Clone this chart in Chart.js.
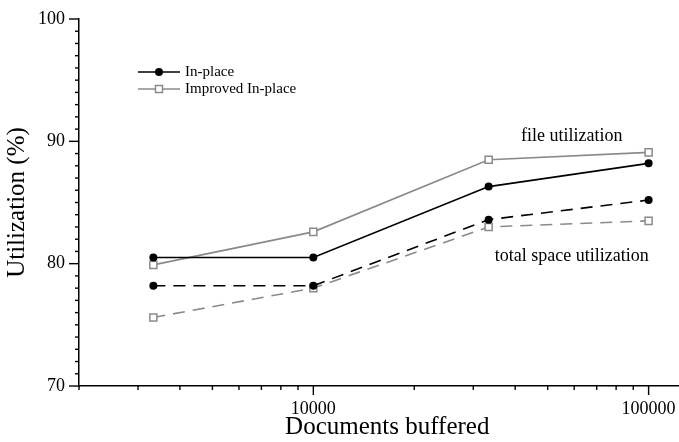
<!DOCTYPE html>
<html lang="en">
<head>
  <meta charset="UTF-8">
  <title>Utilization</title>
  <script src="https://cdn.jsdelivr.net/npm/chart.js"></script>
  <style>
    html, body { margin: 0; padding: 0; background: #fff; overflow: hidden; width: 679px; height: 442px; }
    canvas { position: absolute; left: 0; top: 0; }
  </style>
</head>
<body>
  <canvas id="grafico" width="702" height="442"></canvas>

<script>
  // documents buffered (x) and utilization (%)
  const buffered = [3333, 10000, 33333, 100000];
  const inPlaceFile = [80.5, 80.5, 86.3, 88.2];
  const improvedFile = [79.9, 82.6, 88.5, 89.1];
  const inPlaceTotal = [78.2, 78.2, 83.6, 85.2];
  const improvedTotal = [75.6, 78.0, 83.0, 83.5];

  const xTickLabels = [10000, 100000];
  const yTickLabels = [70, 80, 90, 100];
  const legendNames = ['In-place', 'Improved In-place'];

  const serif = 'Liberation Serif';
  const gray = '#8a8a8a';

  const pts = ys => ys.map((y, i) => ({ x: buffered[i], y: y }));

  const blackStyle = {
    borderColor: '#000', borderWidth: 1.6,
    pointStyle: 'circle', pointRadius: 4, pointBorderWidth: 0,
    pointBackgroundColor: '#000', pointBorderColor: '#000'
  };
  const grayStyle = {
    borderColor: gray, borderWidth: 1.6,
    pointStyle: 'rect', pointRadius: 5, pointBorderWidth: 1.5,
    pointBackgroundColor: '#fff', pointBorderColor: gray
  };

  const data = {
    datasets: [
      Object.assign({ label: legendNames[0], data: pts(inPlaceFile), order: 1 }, blackStyle),
      Object.assign({ label: legendNames[1], data: pts(improvedFile), order: 2 }, grayStyle),
      Object.assign({ label: legendNames[0] + ' total', data: pts(inPlaceTotal), borderDash: [12, 8], order: 3 }, blackStyle),
      Object.assign({ label: legendNames[1] + ' total', data: pts(improvedTotal), borderDash: [12, 8], order: 4 }, grayStyle)
    ]
  };

  // no extra room for end labels, the plot box is fixed by layout padding
  const noPad = s => { s.paddingLeft = 0; s.paddingRight = 0; s.paddingTop = 0; s.paddingBottom = 0; };

  // outward tick marks, long on labelled values and short in between
  const tickMarks = {
    id: 'tickMarks',
    afterDraw(chart) {
      const ctx = chart.ctx;
      const xs = chart.scales.x, ys = chart.scales.y;
      ctx.save();
      ctx.strokeStyle = '#000';
      ctx.lineWidth = 1.4;
      ys.ticks.forEach(t => {
        const py = ys.getPixelForValue(t.value);
        const len = yTickLabels.includes(t.value) ? 10 : 4;
        ctx.beginPath();
        ctx.moveTo(ys.right - len, py);
        ctx.lineTo(ys.right, py);
        ctx.stroke();
      });
      xs.ticks.forEach(t => {
        const p = Math.pow(10, Math.floor(Math.log10(t.value)));
        const s = t.value / p;
        if (Math.abs(s - Math.round(s)) > 1e-6) return;
        const px = xs.getPixelForValue(t.value);
        const len = Math.abs(s - 1) < 1e-6 ? 9 : 4;
        ctx.beginPath();
        ctx.moveTo(px, xs.top);
        ctx.lineTo(px, xs.top + len);
        ctx.stroke();
      });
      ctx.restore();
    }
  };

  // legend box and curve notes inside the plot
  const notes = {
    id: 'notes',
    afterDraw(chart) {
      const ctx = chart.ctx;
      const xs = chart.scales.x, ys = chart.scales.y;
      ctx.save();
      ctx.fillStyle = '#000';
      ctx.font = '18px "' + serif + '"';
      ctx.textAlign = 'center';
      ctx.textBaseline = 'middle';
      ctx.fillText('file utilization', xs.getPixelForValue(59000), ys.getPixelForValue(90.4));
      ctx.fillText('total space utilization', xs.getPixelForValue(59000), ys.getPixelForValue(80.6));

      const styles = [blackStyle, grayStyle];
      legendNames.forEach((name, i) => {
        const st = styles[i];
        const y = 72 + i * 17;
        ctx.strokeStyle = st.borderColor;
        ctx.lineWidth = st.borderWidth;
        ctx.beginPath();
        ctx.moveTo(138, y);
        ctx.lineTo(180, y);
        ctx.stroke();
        if (st.pointStyle === 'circle') {
          ctx.fillStyle = st.pointBackgroundColor;
          ctx.beginPath();
          ctx.arc(159, y, 4, 0, Math.PI * 2);
          ctx.fill();
        } else {
          ctx.fillStyle = '#fff';
          ctx.fillRect(155.5, y - 3.5, 7, 7);
          ctx.lineWidth = st.pointBorderWidth;
          ctx.strokeRect(155.5, y - 3.5, 7, 7);
        }
        ctx.fillStyle = '#000';
        ctx.font = '15px "' + serif + '"';
        ctx.textAlign = 'left';
        ctx.fillText(name, 185, y);
      });
      ctx.restore();
    }
  };

  const config = {
    type: 'line',
    data: data,
    options: {
      responsive: false,
      animation: false,
      devicePixelRatio: 1,
      layout: { padding: { top: 19, right: 0, left: 0, bottom: 0 } },
      elements: { line: { tension: 0 } },
      plugins: { legend: { display: false }, tooltip: { enabled: false } },
      scales: {
        x: {
          type: 'logarithmic',
          min: 2000,
          max: 138000,
          grid: { display: false, drawTicks: false, tickLength: 0 },
          border: { display: true, color: '#000', width: 1.5 },
          ticks: {
            autoSkip: false,
            maxRotation: 0,
            padding: 12,
            color: '#000',
            font: { family: serif, size: 18 },
            callback: v => xTickLabels.includes(v) ? String(v) : ''
          },
          title: {
            display: true,
            text: 'Documents buffered',
            color: '#000',
            font: { family: serif, size: 25 },
            padding: { top: 0, bottom: 0 }
          },
          afterFit: s => { s.height = 56; noPad(s); }
        },
        y: {
          min: 70,
          max: 100,
          grid: { display: false, drawTicks: false, tickLength: 0 },
          border: { display: true, color: '#000', width: 1.5 },
          ticks: {
            stepSize: 1,
            autoSkip: false,
            padding: 14,
            color: '#000',
            font: { family: serif, size: 18 },
            callback: v => yTickLabels.includes(v) ? String(v) : ''
          },
          title: {
            display: true,
            text: 'Utilization (%)',
            color: '#000',
            font: { family: serif, size: 25 },
            padding: { top: 2, bottom: 0 }
          },
          afterFit: s => { s.width = 79; noPad(s); }
        }
      }
    },
    plugins: [tickMarks, notes]
  };

  const myChart = new Chart(document.getElementById('grafico'), config);
</script>
</body>
</html>
